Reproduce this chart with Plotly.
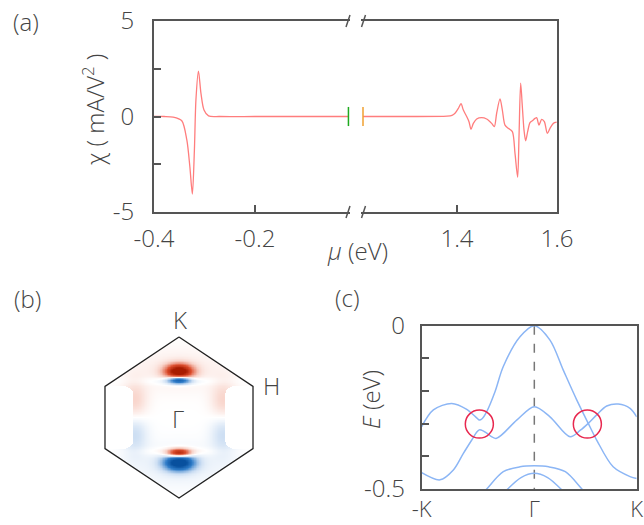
import numpy as np
import plotly.graph_objects as go

W, H = 644, 525
def px(X):
    return X / W
def py(Y):
    return 1 - Y / H

# ---------------- panel (a) data ----------------
mu_left = [-0.4, -0.38, -0.362, -0.345, -0.335, -0.329, -0.324, -0.320, -0.317,
           -0.312, -0.307, -0.301, -0.292, -0.27, -0.2, -0.1, -0.015]
chi_left = [0, 0, -0.03, -0.22, -1.23, -2.63, -4.06, -1.75, 0.86,
            2.38, 1.21, 0.34, 0.03, 0, 0, 0, 0]

mu_right = [1.212, 1.30, 1.38, 1.390, 1.396, 1.4027, 1.408, 1.4127, 1.4193, 1.424,
            1.428, 1.4327, 1.4393, 1.4493, 1.4593, 1.4693, 1.4747, 1.4793, 1.486,
            1.4907, 1.496, 1.5027, 1.5107, 1.516, 1.5213, 1.524, 1.5273, 1.5307,
            1.534, 1.5373, 1.5413, 1.546, 1.5507, 1.556, 1.5593, 1.564, 1.5693,
            1.5747, 1.5807, 1.586, 1.5927, 1.5993]
chi_right = [0, 0, 0.02, 0.06, 0.17, 0.43, 0.67, 0.34, 0, -0.27,
             -0.67, -0.36, -0.13, -0.06, -0.13, -0.36, -0.53, 0.17, 0.92,
             0.34, -0.45, -0.62, -0.79, -1.93, -3.18, -1.06, 1.74, 0.51,
             -0.71, -1.27, -0.79, -0.32, -0.22, -0.1, -0.06, -0.45, -0.15,
             -0.27, -0.88, -0.62, -0.36, -0.30]

edge_left_mu = [-0.015, -0.015]
edge_right_mu = [1.212, 1.212]
edge_chi = [-0.5, 0.5]

chi_ticks = [-5, 0, 5]
chi_ticktext = ['-5', '0', '5']

# ---------------- panel (b) data (Berry-curvature-like map) ----------------
hex_u = [0, 1, 1, 0, -1, -1, 0]
hex_v = [1.088, 0.42, -0.42, -1.088, -0.42, 0.42, 1.088]
blob_u = [0, 0, 0, 0, 0, 0, 0.6, -0.6, 0.6, -0.6, 0, 0]
blob_v = [0.62, 0.505, 0.49, -0.48, -0.46, -0.61, 0.2, 0.2, -0.2, -0.2, 0.65, -0.65]
blob_amp = [1.0, -0.9, -0.07, 0.9, 0.07, -1.0, 0.17, 0.17, -0.17, -0.17, 0.07, -0.07]
blob_su = [0.13, 0.11, 0.45, 0.11, 0.4, 0.14, 0.12, 0.12, 0.12, 0.12, 0.5, 0.5]
blob_sv = [0.07, 0.035, 0.04, 0.04, 0.04, 0.075, 0.2, 0.2, 0.2, 0.2, 0.2, 0.2]

# ---------------- panel (c) data ----------------
k_band1 = [-1.1, -0.986, -0.807, -0.66, -0.56, -0.537, -0.51, -0.465, -0.384, -0.303,
           -0.14, 0, 0.153, 0.283, 0.414, 0.527, 0.609, 0.77, 0.935, 1.0]
E_band1 = [-0.309, -0.258, -0.238, -0.256, -0.283, -0.289, -0.285, -0.263, -0.202, -0.125,
           -0.034, 0, -0.044, -0.136, -0.227, -0.299, -0.35, -0.432, -0.462, -0.468]
k_band2 = [-1.1, -0.921, -0.791, -0.693, -0.611, -0.56, -0.537, -0.5, -0.465, -0.374,
           -0.172, 0, 0.153, 0.349, 0.45, 0.527, 0.609, 0.707, 0.82, 0.935, 1.0]
E_band2 = [-0.45, -0.472, -0.442, -0.391, -0.35, -0.325, -0.319, -0.322, -0.329, -0.345,
           -0.289, -0.248, -0.279, -0.34, -0.32, -0.299, -0.273, -0.246, -0.24, -0.253, -0.279]
k_band3 = [-0.55, -0.465, -0.303, -0.14, 0, 0.14, 0.303, 0.465, 0.55]
E_band3 = [-0.53, -0.5, -0.447, -0.432, -0.429, -0.432, -0.447, -0.5, -0.53]
k_band4 = [-0.32, -0.26, -0.13, 0, 0.13, 0.26, 0.32]
E_band4 = [-0.52, -0.5, -0.465, -0.452, -0.465, -0.5, -0.52]
circle_k = [-0.537, 0.518]
circle_E = [-0.301, -0.301]
k_ticks = [-1.1, 0, 1.0]
k_ticktext = ['-K', 'Γ', 'K']
E_ticks = [-0.5, 0]
E_ticktext = ['-0.5', '0']

FONT = dict(family="Open Sans, Lato, sans-serif", size=24, color="#444", weight=300)
FONT_K = dict(FONT, size=22)
AX = "#555"
RED = "#ff7d7d"
BLUE = "#8cb6f5"

fig = go.Figure()

# (a)
fig.add_trace(go.Scatter(x=mu_left, y=chi_left, mode="lines", line=dict(color=RED, width=1.3, shape="spline", smoothing=0.8),
                         xaxis="x", yaxis="y"))
fig.add_trace(go.Scatter(x=mu_right, y=chi_right, mode="lines", line=dict(color=RED, width=1.3, shape="spline", smoothing=0.8),
                         xaxis="x2", yaxis="y2"))
fig.add_trace(go.Scatter(x=edge_left_mu, y=edge_chi, mode="lines", line=dict(color="#1faa1f", width=1.5),
                         xaxis="x", yaxis="y"))
fig.add_trace(go.Scatter(x=edge_right_mu, y=edge_chi, mode="lines", line=dict(color="#f0a030", width=1.5),
                         xaxis="x2", yaxis="y2"))

# (b)
uu = np.linspace(-1, 1, 241)
vv = np.linspace(-1.09, 1.09, 263)
U, V = np.meshgrid(uu, vv)
Z = np.zeros_like(U)
for a, u0, v0, su, sv in zip(blob_amp, blob_u, blob_v, blob_su, blob_sv):
    Z += a * np.exp(-((U - u0) / su) ** 2 / 2 - ((V - v0) / sv) ** 2 / 2)
# white side pockets (rounded rectangles)
r = 0.12
du = np.maximum(0.62 + r - np.abs(U), 0)
dv = np.maximum(np.abs(V) - (0.42 - r), 0)
pocket = (np.abs(U) > 0.62) & (np.abs(V) < 0.42) & (du ** 2 + dv ** 2 <= r ** 2 + 1e-9)
pocket |= (np.abs(U) > 0.62 + r) & (np.abs(V) < 0.42)
pocket |= (np.abs(U) > 0.62) & (np.abs(V) < 0.42 - r)
Z[pocket] = 0
inside = (np.abs(U) <= 1) & (np.abs(V) <= 1.088 - 0.668 * np.abs(U))
Z = np.where(inside, np.round(Z, 4), np.nan)
fig.add_trace(go.Heatmap(x=uu, y=vv, z=Z, zmin=-0.85, zmax=0.85, zmid=0, showscale=False,
                         colorscale=[[0, "#08509e"], [0.2, "#2f7cc8"], [0.4, "#c9dcf2"], [0.5, "#ffffff"],
                                     [0.6, "#f8d2c8"], [0.8, "#dd5030"], [1, "#a81c00"]],
                         hoverinfo="skip", xaxis="x3", yaxis="y3"))
fig.add_trace(go.Scatter(x=hex_u, y=hex_v, mode="lines", line=dict(color="#222", width=1.3),
                         xaxis="x3", yaxis="y3"))

# (c)
fig.add_trace(go.Scatter(x=[0, 0], y=[0, -0.5], mode="lines", line=dict(color="#777", width=1.5, dash="dash"),
                         xaxis="x4", yaxis="y4"))
for kk, ee in [(k_band1, E_band1), (k_band2, E_band2), (k_band3, E_band3), (k_band4, E_band4)]:
    fig.add_trace(go.Scatter(x=kk, y=ee, mode="lines", line=dict(color=BLUE, width=1.5, shape="spline", smoothing=0.9),
                             xaxis="x4", yaxis="y4"))

shapes = []
for ck, ce in zip(circle_k, circle_E):
    shapes.append(dict(type="circle", xref="x4", yref="y4", x0=ck - 0.137, x1=ck + 0.137,
                       y0=ce - 0.0429, y1=ce + 0.0429, line=dict(color="#e8284f", width=1.5)))
# axis break marks
for Xc in [348, 363.5]:
    for Yc in [21, 212]:
        shapes.append(dict(type="line", xref="paper", yref="paper",
                           x0=px(Xc - 2), y0=py(Yc + 6), x1=px(Xc + 2), y1=py(Yc - 6),
                           line=dict(color=AX, width=1.5)))

common = dict(showgrid=False, zeroline=False, linecolor=AX, linewidth=2, tickcolor=AX,
              ticklen=7, tickwidth=1.5, automargin=False)

fig.update_layout(
    width=W, height=H, margin=dict(l=0, r=0, t=0, b=0, autoexpand=False),
    paper_bgcolor="white", plot_bgcolor="white", showlegend=False, font=FONT,
    xaxis=dict(domain=[px(154), px(350)], range=[-0.4, -0.4 + 196 * 0.00198], anchor="y",
               showline=True, mirror=True, ticks="inside", tickvals=[-0.4, -0.2], ticktext=['-0.4', '-0.2'],
               ticklabelstandoff=4, tickfont=FONT, **common),
    xaxis2=dict(domain=[px(361), px(557)], range=[1.208, 1.6], anchor="y2",
                showline=True, mirror=True, ticks="inside", tickvals=[1.4, 1.6], ticktext=['1.4', '1.6'],
                ticklabelstandoff=4, tickfont=FONT, **common),
    yaxis=dict(domain=[py(212), py(21)], range=[-5, 5], anchor="x", showline=True,
               ticks="inside", tickvals=chi_ticks, ticktext=chi_ticktext, ticklabelstandoff=13, tickfont=FONT,
               minor=dict(ticks="inside", dtick=2.5, tick0=0, ticklen=7, tickcolor=AX, tickwidth=1.5), **common),
    yaxis2=dict(domain=[py(212), py(21)], range=[-5, 5], anchor="x2", side="right", showline=True,
                ticks="", showticklabels=False, **common),
    xaxis3=dict(domain=[px(97), px(261)], range=[-1.108, 1.108], anchor="y3", visible=False, automargin=False),
    yaxis3=dict(domain=[py(507.5), py(327.5)], range=[-1.216, 1.216], anchor="x3", visible=False, automargin=False),
    xaxis4=dict(domain=[px(421.7), px(636.7)], range=[-1.1, 1.0], anchor="y4", showline=True, mirror=True,
                ticks="", tickvals=k_ticks, ticktext=k_ticktext, ticklabelstandoff=0, tickfont=FONT_K, **common),
    yaxis4=dict(domain=[py(489), py(325.7)], range=[-0.5, 0], anchor="x4", showline=True, mirror=True,
                ticks="inside", tickvals=E_ticks, ticktext=E_ticktext, ticklabelstandoff=10, tickfont=FONT,
                minor=dict(ticks="inside", dtick=0.1, tick0=0, ticklen=7, tickcolor=AX, tickwidth=1.5), **common),
    shapes=shapes,
)

ann = [
    ("(a)", 26, 21, 0), ("(b)", 27, 298, 0), ("(c)", 347, 297, 0),
    ("<i>μ</i> (eV)", 357, 250, 0), ("χ ( mA/V<sup>2</sup> )", 93, 110, -90),
    ("<i>E</i> (eV)", 370, 400, -90),
    ("K", 180, 319, 0), ("H", 271, 385, 0), ("Γ", 178, 418, 0),
]
fig.update_layout(annotations=[dict(text=t, x=px(X), y=py(Y), xref="paper", yref="paper",
                                    xanchor="center", yanchor="middle", showarrow=False,
                                    textangle=a, font=FONT) for t, X, Y, a in ann])

fig.write_html("out.html")
